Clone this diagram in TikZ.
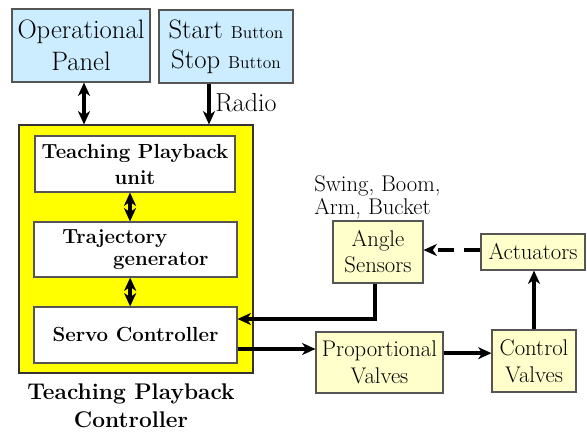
\documentclass[tikz,border=0pt]{standalone}
\usetikzlibrary{arrows.meta}
\definecolor{lblue}{RGB}{204,236,255}
\definecolor{lyel}{RGB}{255,255,204}
\definecolor{ybox}{RGB}{255,255,0}
\definecolor{bord}{RGB}{85,85,85}
\begin{document}
\begin{tikzpicture}[x=0.75pt,y=-0.75pt,
  boxbase/.style={draw=bord, line width=0.8pt, inner sep=0pt, align=center, anchor=center},
  bluebox/.style={boxbase, fill=lblue},
  whitebox/.style={boxbase, fill=white, font=\bfseries\fontsize{15.3}{19.5}\selectfont},
  lybox/.style={boxbase, fill=lyel, font=\fontsize{17}{19.5}\selectfont},
  conn/.style={line width=2.7pt, -{Stealth[length=10pt,width=9pt,inset=3pt]}},
  biconn/.style={line width=2.7pt, {Stealth[length=10pt,width=9pt,inset=3pt]}-{Stealth[length=10pt,width=9pt,inset=3pt]}},
  lbl/.style={inner sep=0pt, font=\fontsize{17}{17.3}\selectfont}
]
\useasboundingbox (0,0) rectangle (587,435);

% top boxes
\node[bluebox, minimum width=103.5pt, minimum height=54.75pt, font=\fontsize{20}{24}\selectfont]
  (op) at (81,45.5) {Operational\\Panel};
\node[bluebox, minimum width=100.5pt, minimum height=54.75pt, font=\fontsize{20}{22.5}\selectfont]
  (ss) at (226,46.5) {Start {\fontsize{13}{22.5}\selectfont Button}\\
  Stop {\fontsize{13}{22.5}\selectfont Button}};

% controller
\node[boxbase, fill=ybox, draw=black!80, minimum width=175.5pt, minimum height=186pt] (tpc) at (136,249) {};
\node[whitebox, minimum width=150pt, minimum height=42pt] (tpu) at (135,164) {Teaching Playback\\unit};
\node[whitebox, minimum width=152.25pt, minimum height=41.25pt, align=left, font=\bfseries\fontsize{15.3}{16}\selectfont]
  (tg) at (135.5,249.5) {Trajectory\\\hspace*{38pt}generator};
\node[whitebox, minimum width=152.25pt, minimum height=42pt] (sc) at (135.5,335) {Servo Controller};
\node[inner sep=0pt, align=center, font=\bfseries\fontsize{17}{21}\selectfont]
  (cap) at (131,406) {Teaching Playback\\Controller};

% right side
\node[lybox, minimum width=67.5pt, minimum height=46.5pt] (as) at (378,252) {Angle\\Sensors};
\node[lybox, minimum width=78pt, minimum height=27pt] (act) at (533,252) {Actuators};
\node[lybox, minimum width=95.25pt, minimum height=45.75pt, font=\fontsize{17}{20}\selectfont] (pv) at (379.5,362.5) {Proportional\\Valves};
\node[lybox, minimum width=63pt, minimum height=46.5pt, font=\fontsize{17}{20}\selectfont] (cv) at (534,361) {Control\\Valves};

\node[lbl, anchor=base west, align=left] (sw) at (314,215) {Swing, Boom,\\Arm, Bucket};
\node[inner sep=0pt, anchor=base west, font=\fontsize{19.5}{21}\selectfont] (radio) at (215,112) {Radio};

% connectors
\draw[biconn] ([xshift=2.25pt]op.south) -- ([xshift=2.25pt]op.south |- tpc.north);
\coordinate (rs) at ([xshift=-12.75pt]ss.south);
\draw[conn] (rs) -- (rs |- tpc.north);
\draw[biconn] ([xshift=-3.75pt]tpu.south) -- ([xshift=-3.75pt]tpu.south |- tg.north);
\draw[biconn] ([xshift=-4pt]tg.south) -- ([xshift=-4pt]tg.south |- sc.north);
\coordinate (fb) at ([yshift=12pt]sc.east);
\draw[conn] ([xshift=-2.25pt]as.south) |- (fb);
\coordinate (o1) at ([yshift=-10.5pt]sc.east);
\draw[conn] (o1) -- (o1 -| pv.west);
\coordinate (o2) at ([yshift=7pt]pv.east);
\draw[conn] (o2) -- (o2 -| cv.west);
\draw[conn] (cv.north) -- (cv.north |- act.south);
\coordinate (o3) at ([yshift=1.5pt]act.west);
\draw[conn, dash pattern=on 12pt off 7.5pt] (o3) -- (o3 -| as.east);
\end{tikzpicture}
\end{document}
